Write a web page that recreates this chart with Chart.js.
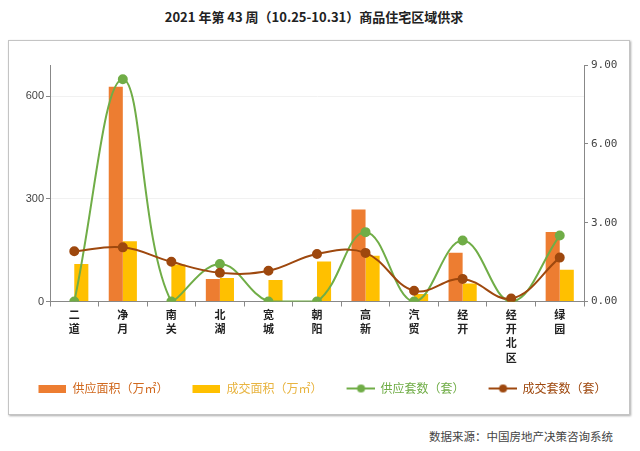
<!DOCTYPE html>
<html>
<head>
<meta charset="utf-8">
<script src="https://cdn.jsdelivr.net/npm/chart.js@4.4.0/dist/chart.umd.min.js"></script>
<style>
  body { margin: 0; width: 640px; height: 451px; background: #fff; position: relative; font-family: "Noto Sans CJK SC", "Noto Sans", sans-serif; }
  #title { position: absolute; left: 0; top: 7px; width: 628px; text-align: center; font-size: 13px; font-weight: bold; color: #222; }
  #box { position: absolute; left: 8px; top: 40px; width: 620px; height: 373px; border: 1px solid #c4c4c4; box-shadow: 1px 1px 2px #aaa; }
  #source { position: absolute; right: 27px; top: 428px; font-size: 11.5px; color: #444; }
</style>
</head>
<body>
<div id="title">2021 年第 43 周（10.25-10.31）商品住宅区域供求</div>
<div id="box"><canvas id="chart" width="620" height="373"></canvas></div>
<div id="source">数据来源：中国房地产决策咨询系统</div>
<script>
// ===== DATA =====
const districts = [['二', '道'], ['净', '月'], ['南', '关'], ['北', '湖'], ['宽', '城'], ['朝', '阳'],
  ['高', '新'], ['汽', '贸'], ['经', '开'], ['经', '开', '北', '区'], ['绿', '园']];
const supplyArea = [0, 628, 0, 66, 0, 0, 269, 0, 143, 0, 203];     // 供应面积（万㎡）
const dealArea = [110, 176, 108, 69, 63, 117, 134, 22, 53, 0, 93]; // 成交面积（万㎡）
const supplyUnits = [0, 8.46, 0, 1.43, 0, 0, 2.64, 0, 2.32, 0, 2.51]; // 供应套数（套）
const dealUnits = [1.91, 2.06, 1.51, 1.09, 1.17, 1.81, 1.85, 0.41, 0.86, 0.11, 1.67]; // 成交套数（套）
const leftTicks = [0, 300, 600];
const rightTicks = [0, 3, 6, 9];

const ORANGE = '#ed7d31', YELLOW = '#ffc000', GREEN = '#70ad47', BROWN = '#9e480e';
const GAP = 7; // extra blank space in front of each legend marker

// little legend markers
function barMarker(color) {
  const c = document.createElement('canvas');
  c.width = 28 + GAP; c.height = 8;
  const g = c.getContext('2d');
  g.fillStyle = color;
  g.fillRect(GAP, 0, 28, 8);
  return c;
}
function lineMarker(color) {
  const c = document.createElement('canvas');
  c.width = 28 + GAP; c.height = 10;
  const g = c.getContext('2d');
  g.strokeStyle = color; g.lineWidth = 2;
  g.beginPath(); g.moveTo(GAP, 5); g.lineTo(GAP + 29, 5); g.stroke();
  g.fillStyle = color;
  g.beginPath(); g.arc(GAP + 14.5, 5, 4, 0, Math.PI * 2); g.fill();
  return c;
}

const legendStyle = [
  { marker: barMarker(ORANGE), text: '#d0691f' },
  { marker: barMarker(YELLOW), text: '#e8b440' },
  { marker: lineMarker(GREEN), text: GREEN },
  { marker: lineMarker(BROWN), text: BROWN }
];

const ctx = document.getElementById('chart').getContext('2d');
new Chart(ctx, {
  type: 'bar',
  data: {
    labels: districts,
    datasets: [
      { type: 'bar', label: '供应面积（万㎡）', data: supplyArea, backgroundColor: ORANGE, yAxisID: 'y', order: 3 },
      { type: 'bar', label: '成交面积（万㎡）', data: dealArea, backgroundColor: YELLOW, yAxisID: 'y', order: 3 },
      { type: 'line', label: '供应套数（套）', data: supplyUnits, borderColor: GREEN, backgroundColor: GREEN,
        borderWidth: 2, pointRadius: 4, tension: 0.4, yAxisID: 'y1', order: 2 },
      { type: 'line', label: '成交套数（套）', data: dealUnits, borderColor: BROWN, backgroundColor: BROWN,
        borderWidth: 2, pointRadius: 4, tension: 0.4, yAxisID: 'y1', order: 1 }
    ]
  },
  options: {
    responsive: false,
    animation: false,
    events: [],
    layout: { padding: { left: 0, right: 0, top: 24, bottom: 9.5 } },
    datasets: { bar: { categoryPercentage: 0.58, barPercentage: 1.0 } },
    plugins: {
      tooltip: { enabled: false },
      legend: {
        position: 'bottom',
        labels: {
          usePointStyle: true,
          pointStyleWidth: 28 + GAP,
          padding: 17,
          font: { size: 12, family: '"Noto Sans CJK SC", sans-serif' },
          generateLabels: chart => chart.data.datasets.map((ds, i) => ({
            text: ds.label,
            pointStyle: legendStyle[i].marker,
            fontColor: legendStyle[i].text,
            fillStyle: 'transparent',
            strokeStyle: 'transparent',
            lineWidth: 0,
            hidden: false,
            datasetIndex: i
          }))
        }
      }
    },
    scales: {
      x: {
        afterFit: s => { s.height = 64; },
        border: { color: '#888' },
        grid: { display: true, drawOnChartArea: false, offset: true, tickLength: 5, tickColor: '#888' },
        ticks: {
          padding: 1, maxRotation: 0, autoSkip: false, color: '#222',
          font: { size: 11, weight: 'bold', family: '"Noto Sans CJK SC", sans-serif', lineHeight: 1.3 }
        }
      },
      y: {
        position: 'left',
        min: 0, max: 692,
        afterFit: s => { s.width = 41; },
        afterBuildTicks: s => { s.ticks = leftTicks.map(v => ({ value: v })); },
        border: { color: '#888' },
        grid: { color: '#f1f1f1', tickColor: '#888', tickLength: 4 },
        ticks: { padding: 2, color: '#444', font: { size: 11, family: 'Arial, "Liberation Sans", sans-serif' } }
      },
      y1: {
        position: 'right',
        min: 0, max: 9,
        afterFit: s => { s.width = 45; },
        afterBuildTicks: s => { s.ticks = rightTicks.map(v => ({ value: v })); },
        border: { color: '#888' },
        grid: { drawOnChartArea: false, tickColor: '#888', tickLength: 4 },
        ticks: {
          padding: 3, color: '#444', font: { size: 11, family: '"DejaVu Sans Mono", monospace' },
          callback: v => v.toFixed(2)
        }
      }
    }
  }
});
</script>
</body>
</html>
